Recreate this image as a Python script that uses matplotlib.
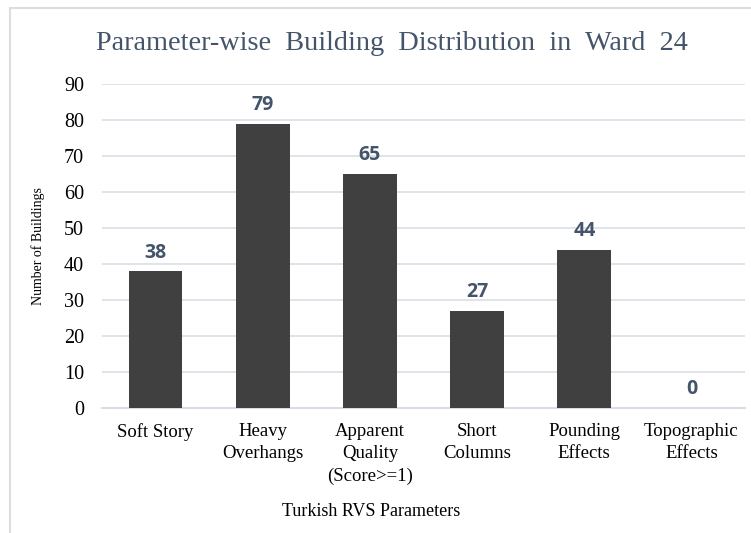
import matplotlib.pyplot as plt
from matplotlib.patches import Rectangle

categories = ['Soft Story', 'Heavy\nOverhangs', 'Apparent\nQuality\n(Score>=1)',
              'Short\nColumns', 'Pounding\nEffects', 'Topographic\nEffects']
counts = [38, 79, 65, 27, 44, 0]
yticks = [0, 10, 20, 30, 40, 50, 60, 70, 80, 90]

plt.rcParams['font.family'] = ['Liberation Serif', 'DejaVu Serif']

fig = plt.figure(figsize=(7.51, 5.33), dpi=100)
ax = fig.add_axes([102 / 751, 125 / 533, 643 / 751, 324 / 533])

x = range(len(categories))
ax.bar(x, counts, width=0.5, color='#404040', zorder=3)

for xi, v in zip(x, counts):
    ax.text(xi, v + 2.4, str(v), ha='center', va='bottom', fontsize=14,
            fontweight='bold', color='#44546A', family=['Open Sans', 'DejaVu Sans'])

ax.set_xlim(-0.5, len(categories) - 0.5)
ax.set_ylim(0, 90)
ax.set_yticks(yticks)
ax.set_xticks(list(x))
ax.set_xticklabels(categories, fontsize=13.5, linespacing=1.4)
ax.tick_params(axis='y', labelsize=14.5, length=0, pad=13)
ax.tick_params(axis='x', length=0, pad=11)
ax.grid(axis='y', color='#D9DEE6', linewidth=1.2, zorder=0)
for s in ['top', 'right', 'left']:
    ax.spines[s].set_visible(False)
ax.spines['bottom'].set_color('#D9DEE6')
ax.spines['bottom'].set_linewidth(1.5)

ax.set_ylabel('Number of Buildings', fontsize=10)
ax.yaxis.set_label_coords(-0.088, 0.5)
fig.text(371 / 751, 1 - 511 / 533, 'Turkish RVS Parameters', ha='center',
         va='center', fontsize=13)
fig.text(392 / 751, 1 - 44 / 533, 'Parameter-wise  Building  Distribution  in  Ward  24',
         ha='center', va='center', fontsize=20.3, color='#44546A')

# outer chart frame
fig.patches.append(Rectangle((10 / 751, -0.1), 1.1, 1 - 8 / 533 + 0.1,
                             transform=fig.transFigure, fill=False,
                             edgecolor='#D9DEE3', linewidth=1.5))

fig.savefig('out.png', dpi=100)
